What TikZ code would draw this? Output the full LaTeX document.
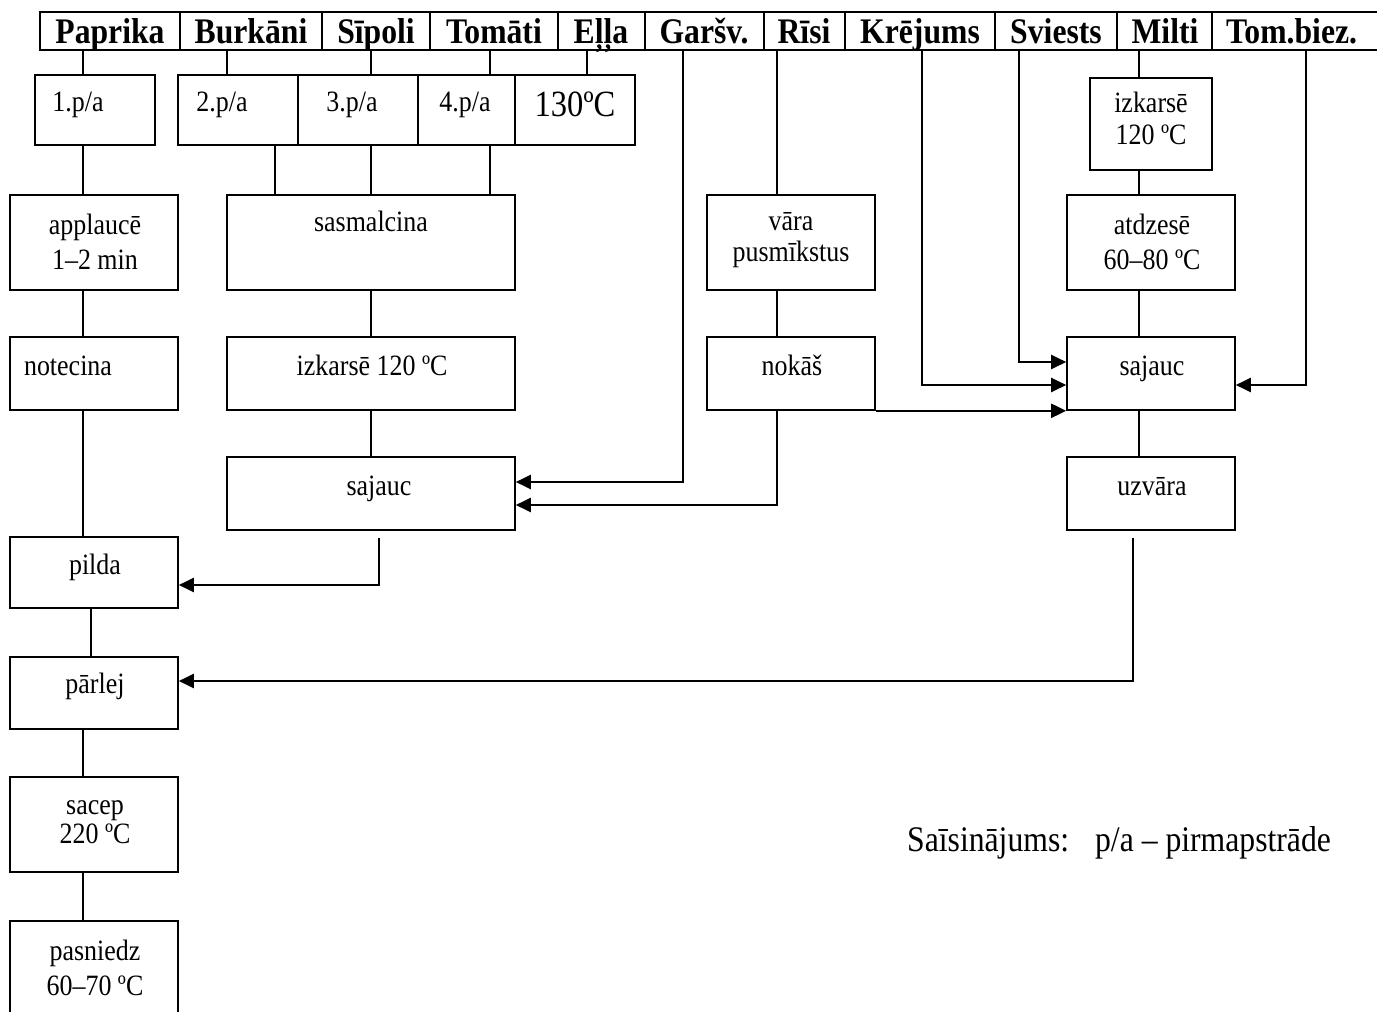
\documentclass[tikz,border=0pt]{standalone}
\usepackage{fontspec}
\setmainfont{Liberation Serif}[FakeStretch=0.88]
\usetikzlibrary{arrows.meta,fit}
\begin{document}
\begin{tikzpicture}[x=1pt,y=-1pt,
  bx/.style={draw,line width=1.6pt,inner sep=0pt},
  hc/.style={draw,line width=2pt,inner sep=0pt},
  ht/.style={inner sep=0pt,anchor=base,font=\fontsize{36}{40}\selectfont\bfseries},
  tx/.style={inner sep=0pt,font=\fontsize{29.5}{34}\selectfont,text height=22pt,text depth=5pt},
  tm/.style={inner sep=0pt,align=center},
  ln/.style={line width=1.3pt},
  arr/.style={line width=2.1pt,-{Triangle[length=15pt,width=14pt]}},
]
\useasboundingbox (0,0) rectangle (1377,1012);
% x positions of connectors
\coordinate (xa) at (83,0);
\coordinate (xb) at (227,0);
\coordinate (xs) at (371,0);
\coordinate (xt) at (490,0);
\coordinate (xe) at (587,0);
\coordinate (xg) at (683,0);
\coordinate (xr) at (777,0);
\coordinate (xk) at (922,0);
\coordinate (xv) at (1019,0);
\coordinate (xm) at (1139,0);
\coordinate (xz) at (1306,0);
\coordinate (xbb) at (275,0);
\coordinate (xsl) at (379,0);
\coordinate (xpl) at (91,0);
\coordinate (xuz) at (1133,0);

% header cells
\node[hc,fit={(40,12) (180,50)}] (hPap) {};
\node[hc,fit={(180,12) (322,50)}] (hBur) {};
\node[hc,fit={(322,12) (430,50)}] (hSip) {};
\node[hc,fit={(430,12) (558,50)}] (hTom) {};
\node[hc,fit={(558,12) (645,50)}] (hEll) {};
\node[hc,fit={(645,12) (764,50)}] (hGar) {};
\node[hc,fit={(764,12) (845,50)}] (hRis) {};
\node[hc,fit={(845,12) (995,50)}] (hKre) {};
\node[hc,fit={(995,12) (1117,50)}] (hSvi) {};
\node[hc,fit={(1117,12) (1212,50)}] (hMil) {};
\node[hc,fit={(1212,12) (1390,50)}] (hTbz) {};
% header texts
\node[ht] (tPap) at (110,43) {Paprika};
\node[ht] (tBur) at (251,43) {Burkāni};
\node[ht] (tSip) at (376,43) {Sīpoli};
\node[ht] (tTom) at (494,43) {Tomāti};
\node[ht] (tEll) at (601,43) {Eļļa};
\node[ht] (tGar) at (704,43) {Garšv.};
\node[ht] (tRis) at (804,43) {Rīsi};
\node[ht] (tKre) at (920,43) {Krējums};
\node[ht] (tSvi) at (1056,43) {Sviests};
\node[ht] (tMil) at (1165,43) {Milti};
\node[ht,anchor=base west] (tTbz) at (1226,43) {Tom.biez.};

% boxes
\node[bx,fit={(35,75) (155,145)}] (pa1) {};
\node[bx,fit={(178,75) (298,145)}] (pa2) {};
\node[bx,fit={(298,75) (418,145)}] (pa3) {};
\node[bx,fit={(418,75) (515,145)}] (pa4) {};
\node[bx,fit={(515,75) (635,145)}] (t130) {};
\node[bx,fit={(1090,78) (1212,170)}] (izk2) {};
\node[bx,fit={(10,195) (178,290)}] (appl) {};
\node[bx,fit={(227,195) (515,290)}] (sasm) {};
\node[bx,fit={(707,195) (875,290)}] (vara) {};
\node[bx,fit={(1067,195) (1235,290)}] (atdz) {};
\node[bx,fit={(10,337) (178,410)}] (note) {};
\node[bx,fit={(227,337) (515,410)}] (izk1) {};
\node[bx,fit={(707,337) (875,410)}] (noka) {};
\node[bx,fit={(1067,337) (1235,410)}] (sajR) {};
\node[bx,fit={(227,457) (515,530)}] (sajL) {};
\node[bx,fit={(1067,457) (1235,530)}] (uzva) {};
\node[bx,fit={(10,537) (178,608)}] (pild) {};
\node[bx,fit={(10,657) (178,729)}] (parl) {};
\node[bx,fit={(10,777) (178,872)}] (sace) {};
\node[bx,fit={(10,921) (178,1030)}] (pasn) {};

% texts
\node[tx] (tpa1) at (78,103) {1.p/a};
\node[tx] (tpa2) at (222,103) {2.p/a};
\node[tx] (tpa3) at (352,103) {3.p/a};
\node[tx] (tpa4) at (465,103) {4.p/a};
\node[tx,font=\fontsize{37}{42}\selectfont,text height=27pt,text depth=6pt] (t130t) at (575,106) {130ºC};
\node[tm,font=\fontsize{29.5}{32}\selectfont] (tizk2) at (1151,118) {izkarsē\\120 ºC};
\node[tm,font=\fontsize{29.5}{35}\selectfont] (tappl) at (95,242) {applaucē\\1–2 min};
\node[tx] (tsasm) at (371,223) {sasmalcina};
\node[tm,font=\fontsize{29.5}{31}\selectfont] (tvara) at (791,240) {vāra\\pusmīkstus};
\node[tm,font=\fontsize{29.5}{35}\selectfont] (tatdz) at (1152,242) {atdzesē\\60–80 ºC};
\node[tx] (tnote) at (68,367) {notecina};
\node[tx] (tizk1) at (372,367) {izkarsē 120 ºC};
\node[tx] (tnoka) at (792,367) {nokāš};
\node[tx] (tsajR) at (1152,367) {sajauc};
\node[tx] (tsajL) at (379,487) {sajauc};
\node[tx] (tuzva) at (1152,487) {uzvāra};
\node[tx] (tpild) at (95,566) {pilda};
\node[tx] (tparl) at (95,685) {pārlej};
\node[tm,font=\fontsize{29.5}{29}\selectfont] (tsace) at (95,822) {sacep\\220 ºC};
\node[tm,font=\fontsize{29.5}{35}\selectfont] (tpasn) at (95,968) {pasniedz\\60–70 ºC};
\node[tm,font=\fontsize{36}{40}\selectfont,anchor=west] (tfoot) at (907,843) {Saīsinājums:\hspace{26pt}p/a – pirmapstrāde};

% header to first row
\draw[ln] (hPap.south -| xa) -- (pa1.north -| xa);
\draw[ln] (hBur.south -| xb) -- (pa2.north -| xb);
\draw[ln] (hSip.south -| xs) -- (pa3.north -| xs);
\draw[ln] (hTom.south -| xt) -- (pa4.north -| xt);
\draw[ln] (hEll.south -| xe) -- (t130.north -| xe);
\draw[ln] (hRis.south -| xr) -- (vara.north -| xr);
\draw[ln] (hMil.south -| xm) -- (izk2.north -| xm);

% vertical flow
\draw[ln] (pa1.south -| xa) -- (appl.north -| xa);
\draw[ln] (pa2.south -| xbb) -- (sasm.north -| xbb);
\draw[ln] (pa3.south -| xs) -- (sasm.north -| xs);
\draw[ln] (pa4.south -| xt) -- (sasm.north -| xt);
\draw[ln] (appl.south -| xa) -- (note.north -| xa);
\draw[ln] (note.south -| xa) -- (pild.north -| xa);
\draw[ln] (sasm.south -| xs) -- (izk1.north -| xs);
\draw[ln] (izk1.south -| xs) -- (sajL.north -| xs);
\draw[ln] (vara.south -| xr) -- (noka.north -| xr);
\draw[ln] (izk2.south -| xm) -- (atdz.north -| xm);
\draw[ln] (atdz.south -| xm) -- (sajR.north -| xm);
\draw[ln] (sajR.south -| xm) -- (uzva.north -| xm);
\draw[ln] (pild.south -| xpl) -- (parl.north -| xpl);
\draw[ln] (parl.south -| xa) -- (sace.north -| xa);
\draw[ln] (sace.south -| xa) -- (pasn.north -| xa);

% arrows
\draw[arr] (hGar.south -| xg) |- ([yshift=11.5pt]sajL.east);
\draw[arr] (noka.south -| xr) |- ([yshift=-11.5pt]sajL.east);
\draw[arr] (hKre.south -| xk) |- ([yshift=-11.5pt]sajR.west);
\draw[arr] (hSvi.south -| xv) |- ([yshift=11.5pt]sajR.west);
\draw[arr] (hTbz.south -| xz) |- ([yshift=-11.5pt]sajR.east);
\draw[arr] (noka.south east) -- (sajR.west |- noka.south east);
\draw[arr] ([yshift=-7pt]sajL.south -| xsl) |- ([yshift=-12.5pt]pild.east);
\draw[arr] ([yshift=-7pt]uzva.south -| xuz) |- ([yshift=12pt]parl.east);
\end{tikzpicture}
\end{document}
